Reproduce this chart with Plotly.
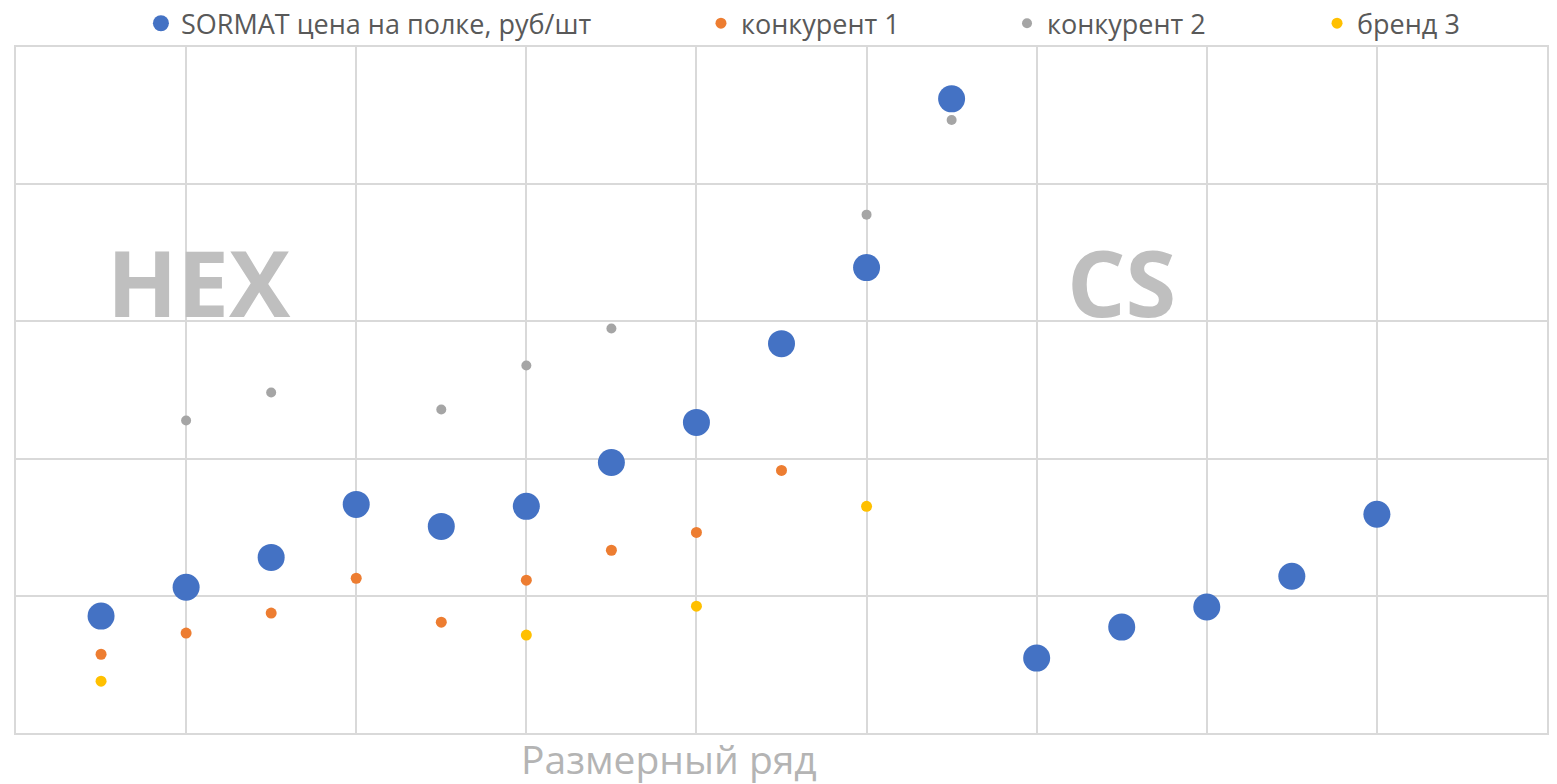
import plotly.graph_objects as go

# positions in the size row (1..16)
x_sormat = [1, 2, 3, 4, 5, 6, 7, 8, 9, 10, 11, 12, 13, 14, 15, 16]
y_sormat = [42.6, 53.1, 64.0, 83.3, 75.3, 82.6, 98.6, 113.2, 141.9, 169.6, 231.1, 27.3, 38.6, 45.9, 57.1, 79.7]

x_k1 = [1, 2, 3, 4, 5, 6, 7, 8, 9]
y_k1 = [28.7, 36.4, 43.7, 56.4, 40.4, 55.7, 66.6, 73.1, 95.7]

x_k2 = [2, 3, 5, 6, 7, 10, 11]
y_k2 = [113.9, 124.1, 117.9, 133.9, 147.4, 188.9, 223.4]

x_b3 = [1, 6, 8, 10]
y_b3 = [18.9, 35.7, 46.2, 82.6]

names = ["SORMAT цена на полке, руб/шт", "конкурент 1", "конкурент 2", "бренд 3"]
colors = ["#4472C4", "#ED7D31", "#A5A5A5", "#FFC000"]
sizes = [27, 11, 10, 11]
legend_x = [0.0816, 0.4474, 0.6473, 0.8498]

series = [(x_sormat, y_sormat), (x_k1, y_k1), (x_k2, y_k2), (x_b3, y_b3)]

fig = go.Figure()
legend_ids = ["legend", "legend2", "legend3", "legend4"]
for i, ((xs, ys), name, c, s) in enumerate(zip(series, names, colors, sizes)):
    fig.add_trace(go.Scatter(
        x=xs, y=ys, mode="markers", name=name,
        marker=dict(color=c, size=s, line=dict(width=0)),
        legend=legend_ids[i], showlegend=True,
    ))

font_family = "Open Sans, Noto Sans, sans-serif"
leg_common = dict(orientation="h", yanchor="middle", y=1.034, xanchor="left",
                  font=dict(family=font_family, size=27, color="#595959"),
                  bgcolor="rgba(0,0,0,0)", borderwidth=0)
layout_legends = {}
for i, lid in enumerate(legend_ids):
    layout_legends[lid] = dict(leg_common, x=legend_x[i])

fig.update_layout(
    width=1557, height=784,
    margin=dict(l=16, r=10, t=47, b=51, autoexpand=False),
    paper_bgcolor="white", plot_bgcolor="white",
    showlegend=True,
    xaxis=dict(range=[0, 18], dtick=2, tick0=0, showgrid=True, gridcolor="#D9D9D9", gridwidth=1.5,
               showline=True, linecolor="#D9D9D9", linewidth=1.5, mirror=True,
               showticklabels=False, ticks="", zeroline=False),
    yaxis=dict(range=[0, 250], dtick=50, showgrid=True, gridcolor="#D9D9D9", gridwidth=1.5,
               showline=True, linecolor="#D9D9D9", linewidth=1.5, mirror=True,
               showticklabels=False, ticks="", zeroline=False),
    annotations=[
        dict(x=2.15, y=164.6, xref="x", yref="y", text="<b>HEX</b>", showarrow=False,
             font=dict(family=font_family, size=92, color="#BFBFBF")),
        dict(x=13.0, y=164.6, xref="x", yref="y", text="<b>CS</b>", showarrow=False,
             font=dict(family=font_family, size=92, color="#BFBFBF")),
        dict(x=(669 - 16) / 1531, y=-0.0365, xref="paper", yref="paper",
             text="Размерный ряд", showarrow=False, xanchor="center", yanchor="middle",
             font=dict(family=font_family, size=39, color="#B4B4B4")),
    ],
    **layout_legends,
)

fig.write_html("out.html", config={"displayModeBar": False},
               post_script="document.body.style.margin='0';")
